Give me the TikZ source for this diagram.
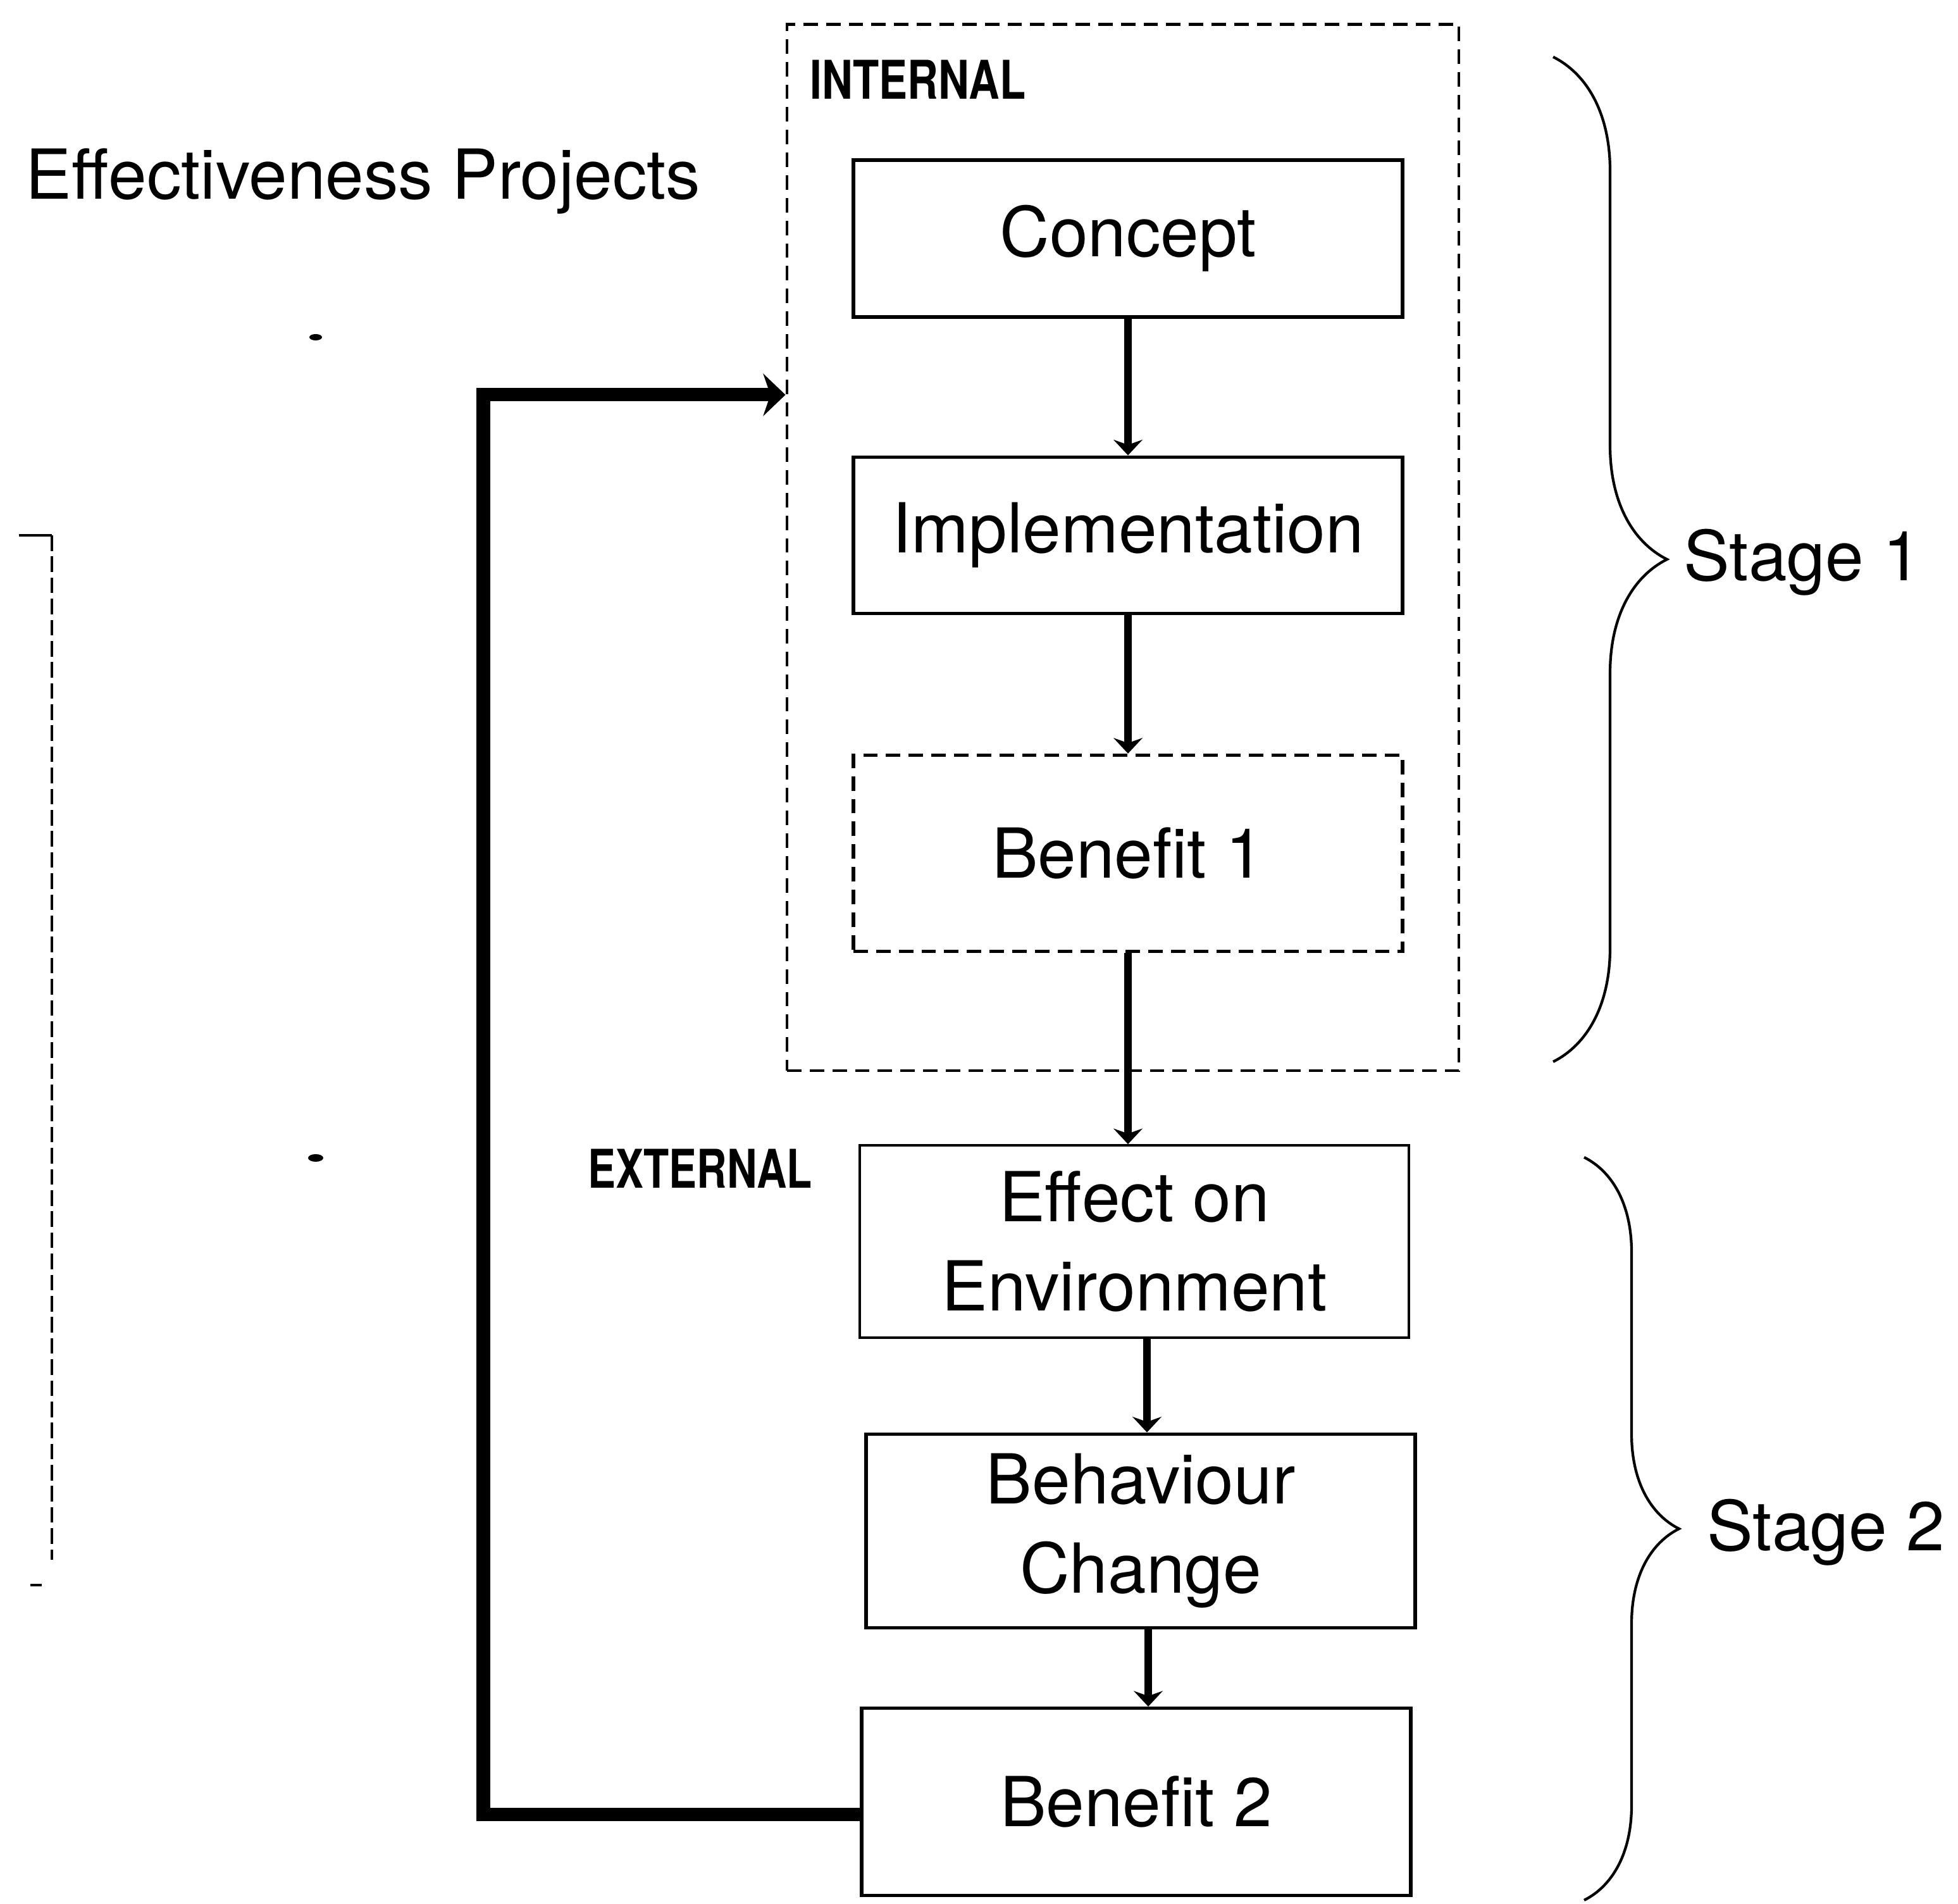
\documentclass[tikz,border=0pt]{standalone}
\usepackage{fontspec}
\setmainfont{TeX Gyre Heros}
\usepackage{tikz}
\usetikzlibrary{arrows.meta,positioning,fit,decorations.pathreplacing}
\tikzset{
>=Stealth,
riquadro/.style={draw,line width=1.5pt,minimum width=8.68cm,inner sep=0pt,align=center,font=\fontsize{31}{40}\selectfont},
tratteggio/.style={dash pattern=on 6.5pt off 3.7pt},
cornice/.style={draw,line width=1.4pt,tratteggio,inner sep=0pt},
titolo/.style={font=\fontsize{31}{40}\selectfont,inner sep=0pt,anchor=base west},
etichetta/.style={font=\fontsize{24}{28}\selectfont\bfseries,inner sep=0pt,anchor=base west},
freccia/.style={-{Stealth[length=7pt,width=13pt]},line width=3.2pt},
ritorno/.style={-{Stealth[length=10pt,width=19pt]},line width=6pt},
graffa/.style={decorate,line width=1.2pt}}

\begin{document}
\begin{tikzpicture}
\useasboundingbox (0,0) rectangle (30.95,30.09);

\node[riquadro,minimum height=2.48cm] (concetto) at (17.83,26.32) {Concept};
\node[riquadro,minimum height=2.47cm,below=2.16cm of concetto] (attuazione) {Implementation};
\node[riquadro,minimum height=3.10cm,below=2.19cm of attuazione,tratteggio] (ben1) {Benefit 1};
\node[riquadro,minimum height=3.04cm,below=3.02cm of ben1,xshift=1mm,line width=1pt] (effetto) {Effect on\\Environment};
\node[riquadro,minimum height=3.06cm,below=1.48cm of effetto,xshift=1mm] (comport) {Behaviour\\Change};
\node[riquadro,minimum height=2.96cm,below=1.22cm of comport,xshift=-0.7mm] (ben2) {Benefit 2};

\coordinate (int1) at (12.44,29.70);
\coordinate (int2) at (23.06,13.17);
\node[cornice,fit=(int1)(int2)] (interno) {};

\node[titolo] (titolo) at (0.40,26.94) {Effectiveness Projects};
\node[etichetta] (intlab) at (12.80,28.52) {\scalebox{0.8}[1]{INTERNAL}};
\node[etichetta] (estlab) at (9.29,11.31) {\scalebox{0.78}[1]{EXTERNAL}};

\draw[freccia] (concetto.south) -- (concetto.south |- attuazione.north);
\draw[freccia] (attuazione.south) -- (attuazione.south |- ben1.north);
\draw[freccia] (ben1.south) -- (ben1.south |- effetto.north);
\draw[freccia] ([xshift=2mm]effetto.south) -- ([xshift=2mm]effetto.south |- comport.north);
\draw[freccia] ([xshift=1.2mm]comport.south) -- ([xshift=1.2mm]comport.south |- ben2.north);

% ritorno da Benefit 2
\coordinate (svolta) at (7.64,23.85);
\draw[ritorno] ([yshift=-2mm]ben2.west) -| (svolta) -- (svolta -| interno.west);

\draw[graffa,decoration={brace,amplitude=1.8cm}] (24.55,29.19) -- (24.55,13.31);
\draw[graffa,decoration={brace,amplitude=1.5cm}] (25.04,11.80) -- (25.04,0.06);
\node[titolo] (fase1) at (26.61,20.91) {Stage 1};
\node[titolo] (fase2) at (26.98,5.58) {Stage 2};

\draw[line width=1pt,dash pattern=on 7pt off 2.5pt] (0.82,21.63) -- (0.82,5.44);
\draw[line width=1pt] (0.30,21.63) -- (0.82,21.63);
\draw[line width=1pt] (0.48,5.04) -- (0.66,5.04);
\fill (4.99,24.76) ellipse (0.1 and 0.05);
\fill (4.99,11.79) ellipse (0.12 and 0.06);

\end{tikzpicture}
\end{document}
